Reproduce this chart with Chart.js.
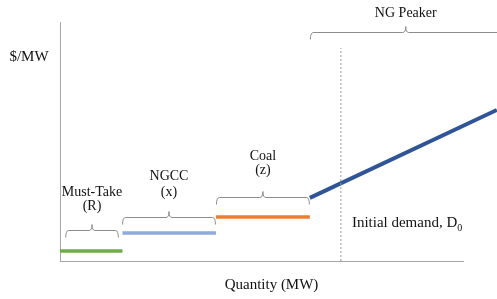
<!DOCTYPE html>
<html>
<head>
<meta charset="utf-8">
<script src="https://cdn.jsdelivr.net/npm/chart.js@4.4.1/dist/chart.umd.min.js"></script>
<style>
html,body{margin:0;padding:0;background:#fff;}
#wrap{width:497px;height:299px;position:relative;}
</style>
</head>
<body>
<div id="wrap"><canvas id="c" width="497" height="299"></canvas></div>
<script>
// ---- data (Quantity in MW units, price in $/MW units) ----
const mustTakeX = [0, 15.5];
const mustTakeY = [4.2, 4.2];
const ngccX = [15.5, 38.7];
const ngccY = [11.7, 11.7];
const coalX = [38.7, 62.0];
const coalY = [18.4, 18.4];
const peakerX = [62.0, 108.4];
const peakerY = [26.4, 63.2];
const demandX = [69.7, 69.7];
const demandY = [0, 89.1];

// braces: start, end (quantity), level (price)
const braceNames = ['Must-Take', 'NGCC', 'Coal', 'NG Peaker'];
const braceLabels = [['Must-Take', '(R)'], ['NGCC', '(x)'], ['Coal', '(z)'], ['NG Peaker']];
const braceStart = [1.3, 15.4, 38.7, 62.0];
const braceEnd = [14.6, 38.7, 62.0, 109.6];
const braceLevel = [12.8, 18.4, 26.8, 95.8];

const FONT = "'Liberation Serif', 'DejaVu Serif', serif";

function pts(xs, ys){ return xs.map((x,i)=>({x:x, y:ys[i]})); }

const bracePlugin = {
  id: 'braces',
  afterDatasetsDraw(chart){
    const ctx = chart.ctx;
    const xs = chart.scales.x, ys = chart.scales.y;
    const gap = [24, 25, 27, 19];
    const lineStep = [14, 16, 14, 15];
    ctx.save();
    ctx.strokeStyle = '#8c8c8c';
    ctx.lineWidth = 1;
    for (let i = 0; i < braceNames.length; i++){
      const x1 = xs.getPixelForValue(braceStart[i]) + 0.5;
      const x2 = xs.getPixelForValue(braceEnd[i]) - 0.5;
      const y = Math.round(ys.getPixelForValue(braceLevel[i])) + 0.5;
      const xm = (x1 + x2) / 2;
      const h = 7, r = 3, t = 6;
      ctx.beginPath();
      ctx.moveTo(x1, y + h);
      ctx.quadraticCurveTo(x1, y, x1 + r, y);
      ctx.lineTo(xm - r, y);
      ctx.quadraticCurveTo(xm, y, xm, y - t);
      ctx.quadraticCurveTo(xm, y, xm + r, y);
      ctx.lineTo(x2 - r, y);
      ctx.quadraticCurveTo(x2, y, x2, y + h);
      ctx.stroke();
      // labels
      ctx.fillStyle = '#111';
      ctx.font = '14px ' + FONT;
      ctx.textAlign = 'center';
      ctx.textBaseline = 'middle';
      const lines = braceLabels[i];
      for (let k = 0; k < lines.length; k++){
        const ly = y - gap[i] - (lines.length - 1 - k) * lineStep[i];
        ctx.fillText(lines[k], xm, ly);
      }
    }
    // axis / annotation text
    ctx.fillStyle = '#111';
    ctx.font = '15px ' + FONT;
    ctx.textAlign = 'center';
    ctx.textBaseline = 'middle';
    ctx.fillText('$/MW', 29, 57);
    ctx.fillText('Quantity (MW)', (chart.chartArea.left + chart.chartArea.right) / 2 + 10, 285);
    ctx.textAlign = 'left';
    const dx = xs.getPixelForValue(demandX[0]) + 11;
    ctx.fillText('Initial demand, D', dx, 223);
    const w = ctx.measureText('Initial demand, D').width;
    ctx.font = '10px ' + FONT;
    ctx.fillText('0', dx + w, 228);
    ctx.restore();
  }
};

const seg = (xs, ys, color, width) => ({
  data: pts(xs, ys), borderColor: color, borderWidth: width,
  pointRadius: 0, fill: false, tension: 0, clip: false, borderCapStyle: 'butt'
});

new Chart(document.getElementById('c'), {
  type: 'line',
  data: {
    datasets: [
      Object.assign(seg(demandX, demandY, '#9a9a9a', 1), {borderDash: [2, 2]}),
      seg(mustTakeX, mustTakeY, '#70ad47', 3.5),
      seg(ngccX, ngccY, '#8faadc', 3.5),
      seg(coalX, coalY, '#ed7d31', 3.5),
      seg(peakerX, peakerY, '#2f5597', 4)
    ]
  },
  options: {
    responsive: false,
    animation: false,
    events: [],
    layout: { padding: { left: 60, right: 34, top: 22, bottom: 38 } },
    plugins: { legend: { display: false }, tooltip: { enabled: false } },
    scales: {
      x: {
        type: 'linear', min: 0, max: 100,
        ticks: { display: false },
        grid: { display: false, drawTicks: false },
        border: { display: true, color: '#a6a6a6', width: 1 }
      },
      y: {
        type: 'linear', min: 0, max: 100,
        ticks: { display: false },
        grid: { display: false, drawTicks: false },
        border: { display: true, color: '#a6a6a6', width: 1 }
      }
    }
  },
  plugins: [bracePlugin]
});
</script>
</body>
</html>
